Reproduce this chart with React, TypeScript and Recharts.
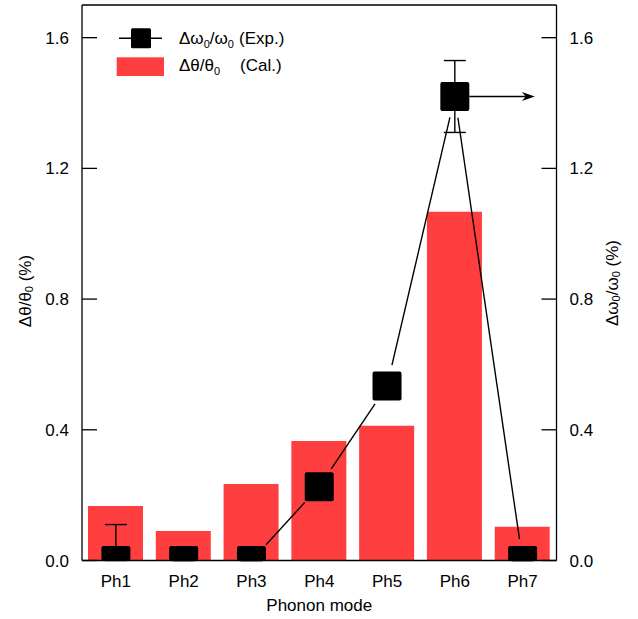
import React from "react";
import {
  ComposedChart,
  Bar,
  Line,
  XAxis,
  YAxis,
  ErrorBar,
  ReferenceLine,
  Legend,
} from "recharts";

// values
const modes = ["Ph1", "Ph2", "Ph3", "Ph4", "Ph5", "Ph6", "Ph7"];
const calValues = [0.167, 0.09, 0.234, 0.366, 0.412, 1.067, 0.103];
const expValues = [0, 0, 0, 0.226, 0.534, 1.42, 0];
// [below, above]; the part of Ph1's bar under zero is cut off by the axis
const expErrors = [[0, 0.11], [0, 0], [0, 0], [0, 0], [0, 0], [0.11, 0.11], [0, 0]];
const expLinked = [false, false, true, true, true, true, true];
const yTicks = [0, 0.4, 0.8, 1.2, 1.6];
const arrowMode = "Ph6";

const data = modes.map((mode, i) => ({
  mode,
  cal: calValues[i],
  exp: expValues[i],
  err: expErrors[i],
  linked: expLinked[i],
}));

const C = {
  ink: "#000000",
  red: "#ff3f3f",
} as const;

const FONT = '"Liberation Sans", Arial, Helvetica, sans-serif';
const FS = 17;
const SQ = 29; // marker size
const GAP = 21.5; // line stops short of markers
const ARROW_LEN = 80;
const TICK_IN = 15;
const AXIS_W = 1.3;

const W = 638;
const H = 619;
const M = { top: 5, right: 21.5, bottom: 28.5, left: 22 };
const Y_W = 60;
const X_H = 30;
const PLOT_BOTTOM = H - M.bottom - X_H;

// squares, connecting segments and the arrow pointing at the right axis
function ExpDot(props: any) {
  const { cx, cy, index, points, payload } = props;
  const next = points ? points[index + 1] : null;
  let seg = null;
  if (next && payload.linked && next.payload.linked) {
    const dx = next.x - cx;
    const dy = next.y - cy;
    const len = Math.hypot(dx, dy);
    const ux = dx / len;
    const uy = dy / len;
    seg = (
      <line
        x1={cx + ux * GAP}
        y1={cy + uy * GAP}
        x2={next.x - ux * GAP}
        y2={next.y - uy * GAP}
        stroke={C.ink}
        strokeWidth={1.4}
      />
    );
  }
  let arrow = null;
  if (payload.mode === arrowMode) {
    const x0 = cx + SQ / 2;
    const x1 = cx + ARROW_LEN;
    arrow = (
      <g>
        <line x1={x0} y1={cy} x2={x1 - 4} y2={cy} stroke={C.ink} strokeWidth={1.4} />
        <path d={`M${x1},${cy} L${x1 - 13},${cy - 4.5} L${x1 - 9},${cy} L${x1 - 13},${cy + 4.5} Z`} fill={C.ink} />
      </g>
    );
  }
  // markers on the zero line are cut at the axis
  const top = cy - SQ / 2;
  const bottom = Math.min(cy + SQ / 2, PLOT_BOTTOM);
  return (
    <g key={`exp-${index}`}>
      {seg}
      {arrow}
      <rect x={cx - SQ / 2} y={top} width={SQ} height={bottom - top} rx={2} fill={C.ink} />
    </g>
  );
}

function YTick(props: any) {
  const { x, y, payload, side } = props;
  const axisX = side === "left" ? x + 13 : x - 13;
  const dir = side === "left" ? 1 : -1;
  return (
    <g>
      <line x1={axisX} y1={y} x2={axisX + dir * TICK_IN} y2={y} stroke={C.ink} strokeWidth={AXIS_W} />
      <text
        x={x}
        y={y}
        dy="0.355em"
        textAnchor={side === "left" ? "end" : "start"}
        fill={C.ink}
        fontSize={FS}
        fontFamily={FONT}
      >
        {Number(payload.value).toFixed(1)}
      </text>
    </g>
  );
}

function YTitle({ viewBox, side }: any) {
  const vb = viewBox || {};
  const cx = side === "left" ? vb.x + 3 : vb.x + vb.width - 5;
  const cy = side === "left" ? 291 : 283;
  return (
    <text
      x={cx}
      y={cy}
      transform={`rotate(-90 ${cx} ${cy})`}
      textAnchor="middle"
      dominantBaseline="central"
      fill={C.ink}
      fontSize={FS}
      fontFamily={FONT}
    >
      {side === "left" ? (
        <>
          <tspan>Δθ/θ</tspan>
          <tspan dy={4} fontSize={11}>0</tspan>
          <tspan dy={-4}> (%)</tspan>
        </>
      ) : (
        <>
          <tspan>Δω</tspan>
          <tspan dy={4} fontSize={11}>0</tspan>
          <tspan dy={-4}>/ω</tspan>
          <tspan dy={4} fontSize={11}>0</tspan>
          <tspan dy={-4}> (%)</tspan>
        </>
      )}
    </text>
  );
}

function LegendBox() {
  return (
    <svg width={200} height={62} style={{ display: "block", fontFamily: FONT }}>
      <line x1={9} y1={18.3} x2={52} y2={18.3} stroke={C.ink} strokeWidth={1.4} />
      <rect x={21} y={8.3} width={20} height={20} rx={1.5} fill={C.ink} />
      <text x={69} y={24} fontSize={FS} fill={C.ink}>
        <tspan>Δω</tspan>
        <tspan dy={4} fontSize={11}>0</tspan>
        <tspan dy={-4}>/ω</tspan>
        <tspan dy={4} fontSize={11}>0</tspan>
        <tspan dy={-4} x={129}>(Exp.)</tspan>
      </text>
      <rect x={6.7} y={37.3} width={47.3} height={18.7} fill={C.red} />
      <text x={69} y={51} fontSize={FS} fill={C.ink}>
        <tspan>Δθ/θ</tspan>
        <tspan dy={4} fontSize={11}>0</tspan>
        <tspan dy={-4} x={130}>(Cal.)</tspan>
      </text>
    </svg>
  );
}

export default function App() {
  return (
    <div style={{ position: "absolute", left: 0, top: 0, background: "#fff" }}>
      <ComposedChart width={W} height={H} data={data} margin={M} style={{ fontFamily: FONT }}>
        <XAxis
          dataKey="mode"
          height={X_H}
          tickLine={false}
          tickSize={0}
          tickMargin={14}
          axisLine={{ stroke: C.ink, strokeWidth: AXIS_W }}
          tick={{ fill: C.ink, fontSize: FS, fontFamily: FONT }}
          label={{ value: "Phonon mode", position: "insideBottom", offset: -20, fill: C.ink, fontSize: FS, fontFamily: FONT }}
        />
        <YAxis
          yAxisId="left"
          orientation="left"
          width={Y_W}
          domain={[0, 1.7]}
          ticks={yTicks}
          allowDataOverflow
          tickLine={false}
          tickSize={13}
          tickMargin={0}
          axisLine={{ stroke: C.ink, strokeWidth: AXIS_W }}
          tick={(p: any) => <YTick {...p} side="left" />}
          label={{ content: (p: any) => <YTitle {...p} side="left" /> }}
        />
        <YAxis
          yAxisId="right"
          orientation="right"
          width={Y_W}
          domain={[0, 1.7]}
          ticks={yTicks}
          allowDataOverflow
          tickLine={false}
          tickSize={13}
          tickMargin={0}
          axisLine={{ stroke: C.ink, strokeWidth: AXIS_W }}
          tick={(p: any) => <YTick {...p} side="right" />}
          label={{ content: (p: any) => <YTitle {...p} side="right" /> }}
        />
        <ReferenceLine yAxisId="left" y={1.7} stroke={C.ink} strokeWidth={AXIS_W} />
        <Legend
          layout="horizontal"
          verticalAlign="middle"
          align="center"
          wrapperStyle={{ top: 20, left: 110, width: 200, height: 62 }}
          content={() => <LegendBox />}
        />
        <Bar yAxisId="left" dataKey="cal" fill={C.red} barSize={55} isAnimationActive={false} />
        <Line
          yAxisId="right"
          dataKey="exp"
          stroke="none"
          dot={(p: any) => <ExpDot {...p} key={`d-${p.index}`} />}
          activeDot={false}
          isAnimationActive={false}
        >
          <ErrorBar dataKey="err" width={11} stroke={C.ink} strokeWidth={1.4} direction="y" />
        </Line>
      </ComposedChart>
    </div>
  );
}
